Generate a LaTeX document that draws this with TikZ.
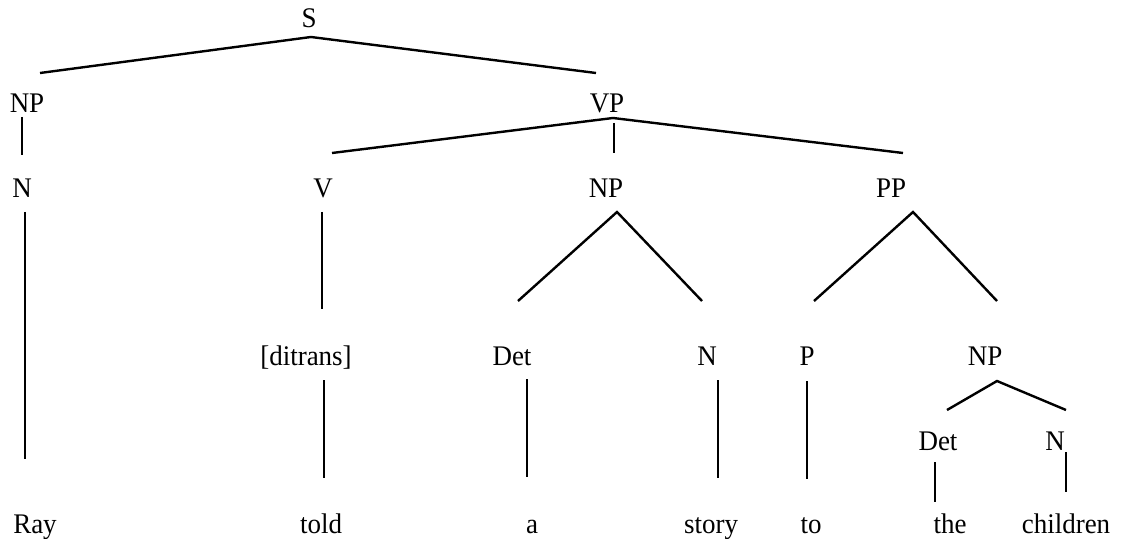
\documentclass[tikz,border=0pt]{standalone}
\usepackage{fontspec}
\setmainfont{Liberation Serif}[FakeStretch=0.95]
\usetikzlibrary{positioning}

\begin{document}
\begin{tikzpicture}[x=0.5pt,y=-0.5pt]
	\tikzstyle{lbl}=[anchor=base,inner sep=0pt,font=\fontsize{14.2}{16}\selectfont]
	\tikzstyle{branch}=[line width=1.2pt]
	\useasboundingbox (0,0) rectangle (1122,539);

	\node[lbl] (S) at (309,28) {S};
	\node[lbl] (NPsubj) at (27,113) {NP};
	\node[lbl] (VP) at (607,113) {VP};
	\node[lbl] (Nsubj) at (22,198) {N};
	\node[lbl] (V) at (323,198) {V};
	\node[lbl] (NPobj) at (606,198) {NP};
	\node[lbl] (PP) at (891,198) {PP};
	\node[lbl] (ditrans) at (306,365) {[ditrans]};
	\node[lbl] (DetObj) at (512,365) {Det};
	\node[lbl] (Nobj) at (707,365) {N};
	\node[lbl] (P) at (807,365) {P};
	\node[lbl] (NPpp) at (985,365) {NP};
	\node[lbl] (DetPP) at (938,450) {Det};
	\node[lbl] (Npp) at (1055,450) {N};
	\node[lbl] (ray) at (35,533) {Ray};
	\node[lbl] (told) at (321,533) {told};
	\node[lbl] (a) at (532,533) {a};
	\node[lbl] (story) at (711,533) {story};
	\node[lbl] (to) at (811,533) {to};
	\node[lbl] (the) at (950,533) {the};
	\node[lbl] (children) at (1066,533) {children};

	\coordinate (S-b) at (311,37);
	\coordinate (NPsubj-t) at (40,73);
	\coordinate (VP-t) at (596,73);
	\coordinate (NPsubj-b) at (22,117);
	\coordinate (Nsubj-t) at (22,155);
	\coordinate (VP-b) at (613,118);
	\coordinate (VP-m) at (614,123);
	\coordinate (V-t) at (332,153);
	\coordinate (NPobj-t) at (614,153);
	\coordinate (PP-t) at (903,153);
	\coordinate (Nsubj-b) at (25,212);
	\coordinate (ray-t) at (25,459);
	\coordinate (V-b) at (322,212);
	\coordinate (ditrans-t) at (322,309);
	\coordinate (NPobj-b) at (617,212);
	\coordinate (DetObj-t) at (518,301);
	\coordinate (Nobj-t) at (702,301);
	\coordinate (PP-b) at (913,212);
	\coordinate (P-t) at (814,301);
	\coordinate (NPpp-t) at (997,301);
	\coordinate (ditrans-b) at (324,380);
	\coordinate (told-t) at (324,478);
	\coordinate (DetObj-b) at (527,379);
	\coordinate (a-t) at (527,477);
	\coordinate (Nobj-b) at (718,380);
	\coordinate (story-t) at (718,478);
	\coordinate (P-b) at (807,381);
	\coordinate (to-t) at (807,479);
	\coordinate (NPpp-b) at (997,381);
	\coordinate (DetPP-t) at (947,410);
	\coordinate (Npp-t) at (1066,410);
	\coordinate (DetPP-b) at (935,462);
	\coordinate (the-t) at (935,502);
	\coordinate (Npp-b) at (1066,452);
	\coordinate (children-t) at (1066,492);

	\draw[branch] (NPsubj-t) -- (S-b) -- (VP-t);
	\draw[branch] (NPsubj-b) -- (Nsubj-t);
	\draw[branch] (V-t) -- (VP-b) -- (PP-t);
	\draw[branch] (VP-m) -- (NPobj-t);
	\draw[branch] (Nsubj-b) -- (ray-t);
	\draw[branch] (V-b) -- (ditrans-t);
	\draw[branch] (DetObj-t) -- (NPobj-b) -- (Nobj-t);
	\draw[branch] (P-t) -- (PP-b) -- (NPpp-t);
	\draw[branch] (ditrans-b) -- (told-t);
	\draw[branch] (DetObj-b) -- (a-t);
	\draw[branch] (Nobj-b) -- (story-t);
	\draw[branch] (P-b) -- (to-t);
	\draw[branch] (DetPP-t) -- (NPpp-b) -- (Npp-t);
	\draw[branch] (DetPP-b) -- (the-t);
	\draw[branch] (Npp-b) -- (children-t);
\end{tikzpicture}
\end{document}
